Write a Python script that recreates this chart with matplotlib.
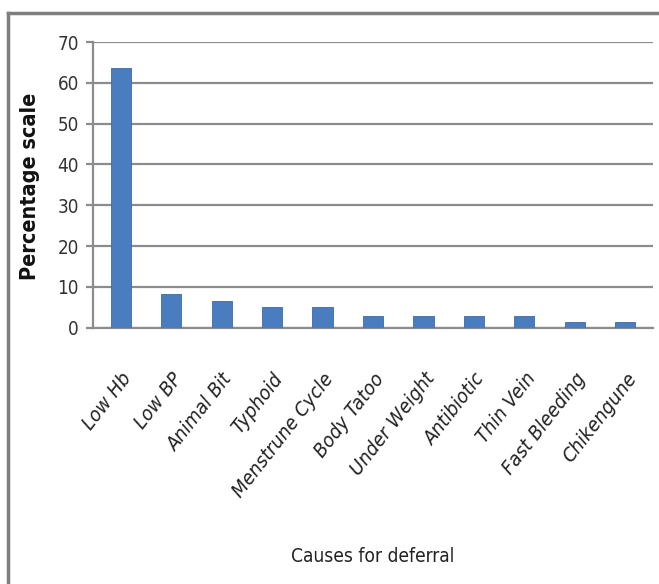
import matplotlib
matplotlib.use("Agg")
import matplotlib.pyplot as plt
from matplotlib.lines import Line2D

categories = ["Low Hb", "Low BP", "Animal Bit", "Typhoid", "Menstrune Cycle",
              "Body Tatoo", "Under Weight", "Antibiotic", "Thin Vein",
              "Fast Bleeding", "Chikengune"]
values = [63.6, 8.2, 6.5, 5.0, 5.0, 2.8, 2.8, 2.8, 2.8, 1.3, 1.3]
yticks = [0, 10, 20, 30, 40, 50, 60, 70]

plt.rcParams['font.family'] = ["DejaVu Sans"]
plt.rcParams['font.stretch'] = "condensed"

W, H = 659, 584
fig = plt.figure(figsize=(W / 100, H / 100), dpi=100)
ax = fig.add_axes([93 / W, 1 - 327.7 / H, (653 - 93) / W, (327.7 - 42) / H])

x = list(range(len(categories)))
ax.bar(x, values, width=0.4, color="#4a7cc0", edgecolor="#3d6aa8", linewidth=0.6, zorder=3)
ax.set_xlim(-0.55, len(categories) - 0.45)
ax.set_ylim(0, 70)
ax.set_yticks(yticks)
ax.set_yticklabels([str(t) for t in yticks], fontsize=13.5, color="#333333")
ax.yaxis.grid(True, color="#8c8c8c", linewidth=1.6, zorder=0)
ax.set_axisbelow(True)
for s in ["top", "right"]:
    ax.spines[s].set_visible(False)
ax.spines["left"].set_color("#8c8c8c")
ax.spines["left"].set_linewidth(1.6)
ax.spines["bottom"].set_color("#8c8c8c")
ax.spines["bottom"].set_linewidth(1.6)
ax.tick_params(axis="y", length=5, width=1.6, color="#8c8c8c", pad=5)
ax.tick_params(axis="x", length=0, pad=30)
ax.set_xticks(x)
ax.set_xticklabels(categories, rotation=52, ha="right", va="top",
                   rotation_mode="anchor", fontsize=14.5, style="oblique", color="#222222")

fig.text(30 / W, 1 - 186 / H, "Percentage scale", rotation=90, ha="center", va="center",
         fontsize=15.5, fontweight="bold", color="#111111")
fig.text(373 / W, 1 - 556 / H, "Causes for deferral", ha="center", va="center",
         fontsize=13.8, color="#222222")

# outer border
fig.add_artist(Line2D([8 / W, 8 / W], [0, 1 - 13 / H], transform=fig.transFigure,
                      color="#7f7f7f", linewidth=2.5))
fig.add_artist(Line2D([8 / W, 1], [1 - 13 / H, 1 - 13 / H], transform=fig.transFigure,
                      color="#7f7f7f", linewidth=2.5))

fig.savefig("out.png", dpi=100)
